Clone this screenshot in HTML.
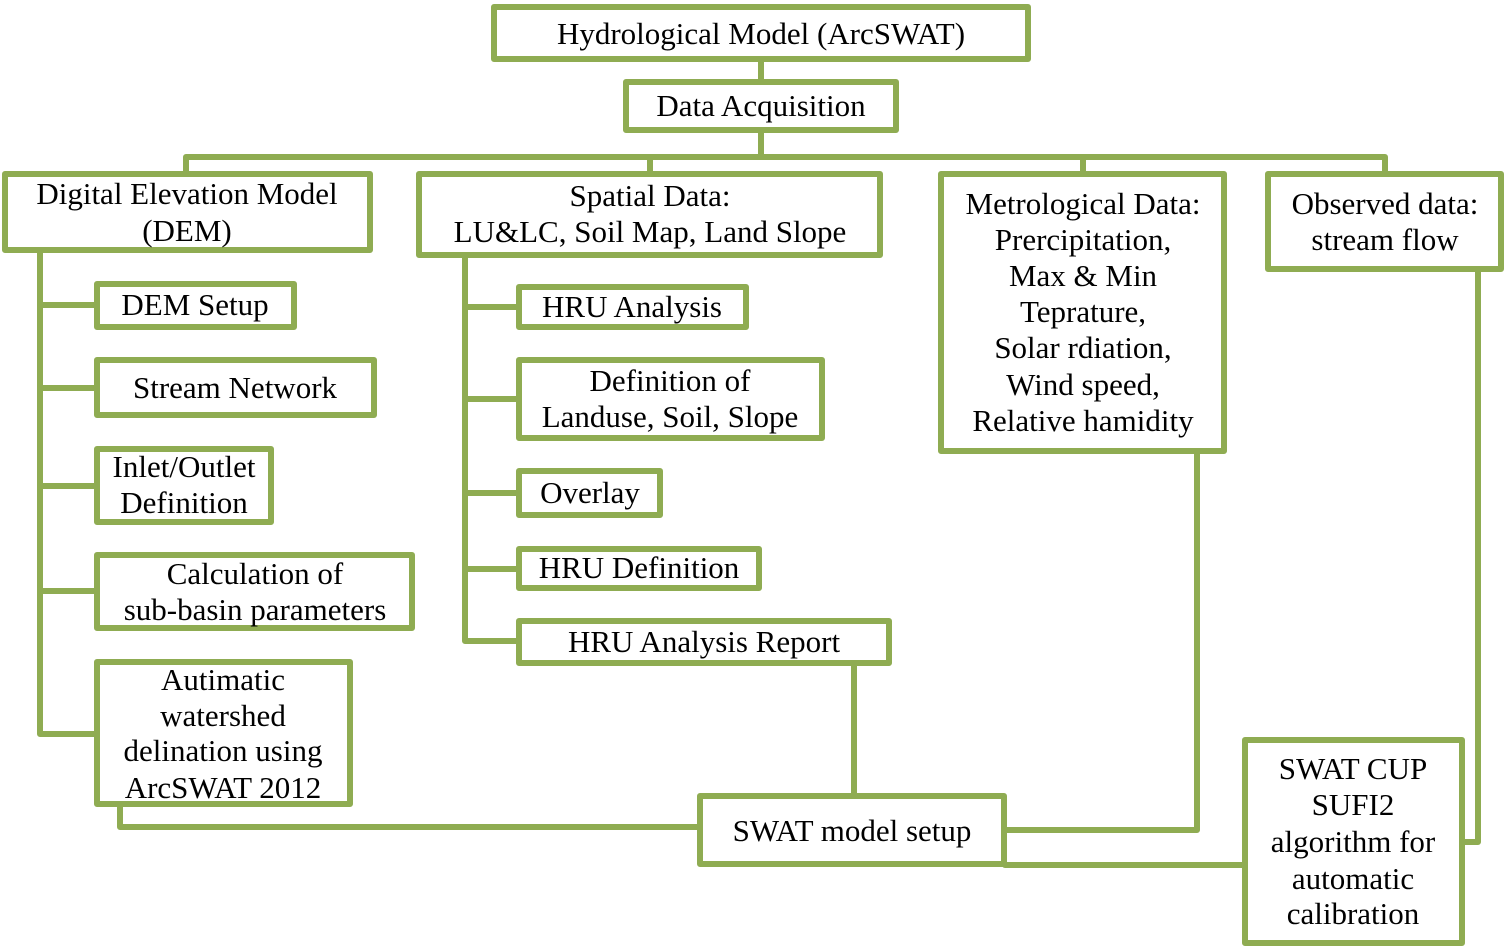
<!DOCTYPE html>
<html><head><meta charset="utf-8"><style>
html,body{margin:0;padding:0;background:#fff;}
svg{display:block;}
text{font-family:"Liberation Serif",serif;font-size:31px;fill:#000;text-anchor:middle;}
</style></head><body>
<svg width="1506" height="949" viewBox="0 0 1506 949" xmlns="http://www.w3.org/2000/svg">
<g fill="none" stroke="#8fac52" stroke-width="6" stroke-linejoin="round" stroke-linecap="round">
<!-- connectors -->
<path d="M761 62V79 M761 133V157 M186 157H1385 M186 157V171 M650 157V171 M1083 157V171 M1385 157V171"/>
<path d="M40 253V734 M40 305H94 M40 388H94 M40 486H94 M40 591H94 M40 734H94"/>
<path d="M465 258V641 M465 307H516 M465 399H516 M465 493H516 M465 569H516 M465 641H516"/>
<path d="M854 666V793"/>
<path d="M120 807V827H697"/>
<path d="M1197 454V830H1007"/>
<path d="M1005 865H1242"/>
<path d="M1478 272V842H1465"/>
<!-- boxes -->
<rect x="494" y="7" width="534" height="52" fill="#fff"/>
<rect x="626" y="82" width="270" height="48" fill="#fff"/>
<rect x="5" y="174" width="365" height="76" fill="#fff"/>
<rect x="419" y="174" width="461" height="81" fill="#fff"/>
<rect x="941" y="174" width="283" height="277" fill="#fff"/>
<rect x="1268" y="174" width="233" height="95" fill="#fff"/>
<rect x="97" y="284" width="197" height="43" fill="#fff"/>
<rect x="97" y="360" width="277" height="55" fill="#fff"/>
<rect x="97" y="449" width="174" height="73" fill="#fff"/>
<rect x="97" y="555" width="315" height="73" fill="#fff"/>
<rect x="97" y="662" width="253" height="142" fill="#fff"/>
<rect x="519" y="287" width="227" height="40" fill="#fff"/>
<rect x="519" y="360" width="303" height="78" fill="#fff"/>
<rect x="519" y="471" width="141" height="44" fill="#fff"/>
<rect x="519" y="549" width="240" height="39" fill="#fff"/>
<rect x="519" y="621" width="370" height="42" fill="#fff"/>
<rect x="700" y="796" width="304" height="68" fill="#fff"/>
<rect x="1245" y="740" width="217" height="203" fill="#fff"/>
</g>
<text x="761" y="44">Hydrological Model (ArcSWAT)</text>
<text x="761" y="116">Data Acquisition</text>
<text x="187" y="204">Digital Elevation Model</text>
<text x="187" y="241">(DEM)</text>
<text x="650" y="206">Spatial Data:</text>
<text x="650" y="242">LU&amp;LC, Soil Map, Land Slope</text>
<text x="1083" y="214">Metrological Data:</text>
<text x="1083" y="250">Prercipitation,</text>
<text x="1083" y="286">Max &amp; Min</text>
<text x="1083" y="322">Teprature,</text>
<text x="1083" y="358">Solar rdiation,</text>
<text x="1083" y="395">Wind speed,</text>
<text x="1083" y="431">Relative hamidity</text>
<text x="1385" y="214">Observed data:</text>
<text x="1385" y="250">stream flow</text>
<text x="195" y="315">DEM Setup</text>
<text x="235" y="398">Stream Network</text>
<text x="184" y="477">Inlet/Outlet</text>
<text x="184" y="513">Definition</text>
<text x="255" y="584">Calculation of</text>
<text x="255" y="620">sub-basin parameters</text>
<text x="223" y="690">Autimatic</text>
<text x="223" y="726">watershed</text>
<text x="223" y="761">delination using</text>
<text x="223" y="798">ArcSWAT 2012</text>
<text x="632" y="317">HRU Analysis</text>
<text x="670" y="391">Definition of</text>
<text x="670" y="427">Landuse, Soil, Slope</text>
<text x="590" y="503">Overlay</text>
<text x="639" y="578">HRU Definition</text>
<text x="704" y="652">HRU Analysis Report</text>
<text x="852" y="841">SWAT model setup</text>
<text x="1353" y="779">SWAT CUP</text>
<text x="1353" y="815">SUFI2</text>
<text x="1353" y="852">algorithm for</text>
<text x="1353" y="889">automatic</text>
<text x="1353" y="924">calibration</text>
</svg>
</body></html>
